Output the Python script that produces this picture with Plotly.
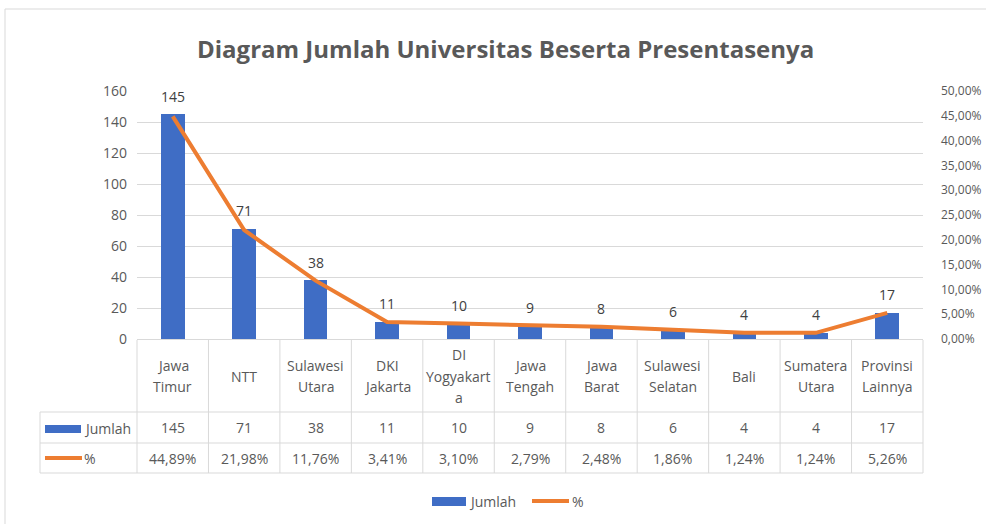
import plotly.graph_objects as go

# ---- data ----
categories = ["Jawa Timur", "NTT", "Sulawesi Utara", "DKI Jakarta", "DI Yogyakarta",
              "Jawa Tengah", "Jawa Barat", "Sulawesi Selatan", "Bali", "Sumatera Utara",
              "Provinsi Lainnya"]
category_lines = [["Jawa", "Timur"], ["NTT"], ["Sulawesi", "Utara"], ["DKI", "Jakarta"],
                  ["DI", "Yogyakart", "a"], ["Jawa", "Tengah"], ["Jawa", "Barat"],
                  ["Sulawesi", "Selatan"], ["Bali"], ["Sumatera", "Utara"], ["Provinsi", "Lainnya"]]
jumlah = [145, 71, 38, 11, 10, 9, 8, 6, 4, 4, 17]
persen = [44.89, 21.98, 11.76, 3.41, 3.10, 2.79, 2.48, 1.86, 1.24, 1.24, 5.26]
left_ticks = [0, 20, 40, 60, 80, 100, 120, 140, 160]
right_ticks = [0, 5, 10, 15, 20, 25, 30, 35, 40, 45, 50]

title = "Diagram Jumlah Universitas Beserta Presentasenya"
BLUE = "#3f6dc5"
ORANGE = "#ed7d31"
TXT = "#595959"
GRID = "#d9d9d9"
FONT = "Open Sans, sans-serif"

W, H = 986, 524
L, R, T, B = 137, 923, 91, 339

def px(x):
    return (x - L) / (R - L)

def py(y):
    return (B - y) / (B - T)

def pct(v):
    return f"{v:.2f}".replace(".", ",") + "%"

n = len(categories)
x_idx = list(range(n))

fig = go.Figure()
fig.add_trace(go.Bar(x=x_idx, y=jumlah, name="Jumlah", marker_color=BLUE,
                     marker_line_width=0, width=0.33, yaxis="y", showlegend=False))
fig.add_trace(go.Scatter(x=x_idx, y=persen, name="%", mode="lines",
                         line=dict(color=ORANGE, width=4), yaxis="y2", showlegend=False,
                         cliponaxis=False))

shapes = []
annotations = []

# title
annotations.append(dict(x=px(505), y=py(48), xref="paper", yref="paper", text=f"<b>{title}</b>",
                        showarrow=False, font=dict(family=FONT, size=24, color=TXT),
                        xanchor="center", yanchor="middle"))

# data labels
for i, v in enumerate(jumlah):
    annotations.append(dict(x=i, y=v, xref="x", yref="y", text=str(v), showarrow=False,
                            yshift=18, font=dict(family=FONT, size=14, color="#404040"),
                            xanchor="center", yanchor="middle"))

# table
col_w = 1.0 / n
tbl_top, row1, row2, row3 = 340, 412, 443, 473
leg_left = 40
line_style = dict(color=GRID, width=1)
for k in range(n + 1):
    xp = k * col_w
    shapes.append(dict(type="line", xref="paper", yref="paper", x0=xp, x1=xp,
                       y0=py(tbl_top), y1=py(row3), line=line_style))
shapes.append(dict(type="line", xref="paper", yref="paper", x0=px(leg_left), x1=px(leg_left),
                   y0=py(row1), y1=py(row3), line=line_style))
for yy in (row1, row2, row3):
    shapes.append(dict(type="line", xref="paper", yref="paper", x0=px(leg_left), x1=1,
                       y0=py(yy), y1=py(yy), line=line_style))

cell_font = dict(family=FONT, size=14, color=TXT)
hdr_c = (tbl_top + row1) / 2
for i, lines in enumerate(category_lines):
    m = len(lines)
    for j, s in enumerate(lines):
        yy = hdr_c + (j - (m - 1) / 2) * 21.5
        annotations.append(dict(x=(i + 0.5) * col_w, y=py(yy), xref="paper", yref="paper",
                                text=s, showarrow=False, font=cell_font,
                                xanchor="center", yanchor="middle"))
    annotations.append(dict(x=(i + 0.5) * col_w, y=py((row1 + row2) / 2), xref="paper", yref="paper",
                            text=str(jumlah[i]), showarrow=False, font=cell_font,
                            xanchor="center", yanchor="middle"))
    annotations.append(dict(x=(i + 0.5) * col_w, y=py((row2 + row3) / 2), xref="paper", yref="paper",
                            text=pct(persen[i]), showarrow=False,
                            font=cell_font, xanchor="center", yanchor="middle"))

# table legend keys
shapes.append(dict(type="rect", xref="paper", yref="paper", x0=px(45), x1=px(81),
                   y0=py(433), y1=py(425), fillcolor=BLUE, line_width=0))
annotations.append(dict(x=px(82), y=py(428), xref="paper", yref="paper", text="Jumlah",
                        showarrow=False, font=cell_font, xanchor="left", yanchor="middle"))
shapes.append(dict(type="line", xref="paper", yref="paper", x0=px(45), x1=px(82),
                   y0=py(458), y1=py(458), line=dict(color=ORANGE, width=4)))
annotations.append(dict(x=px(82), y=py(458), xref="paper", yref="paper", text="%",
                        showarrow=False, font=cell_font, xanchor="left", yanchor="middle"))

# bottom legend
shapes.append(dict(type="rect", xref="paper", yref="paper", x0=px(432), x1=px(466),
                   y0=py(506), y1=py(497), fillcolor=BLUE, line_width=0))
annotations.append(dict(x=px(467), y=py(501), xref="paper", yref="paper", text="Jumlah",
                        showarrow=False, font=cell_font, xanchor="left", yanchor="middle"))
shapes.append(dict(type="line", xref="paper", yref="paper", x0=px(532), x1=px(569),
                   y0=py(501), y1=py(501), line=dict(color=ORANGE, width=4)))
annotations.append(dict(x=px(570), y=py(501), xref="paper", yref="paper", text="%",
                        showarrow=False, font=cell_font, xanchor="left", yanchor="middle"))

# chart outer border
shapes.append(dict(type="line", xref="paper", yref="paper", x0=px(5), x1=px(986),
                   y0=py(9), y1=py(9), line=dict(color=GRID, width=1)))
shapes.append(dict(type="line", xref="paper", yref="paper", x0=px(5), x1=px(5),
                   y0=py(9), y1=py(524), line=dict(color=GRID, width=1)))

fig.update_layout(
    width=W, height=H,
    margin=dict(l=L, r=W - R, t=T, b=H - B, autoexpand=False),
    paper_bgcolor="white", plot_bgcolor="white",
    font=dict(family=FONT, size=14, color=TXT),
    bargap=0,
    xaxis=dict(range=[-0.5, n - 0.5], showticklabels=False, ticks="", showgrid=False,
               zeroline=False, showline=True, linecolor=GRID, linewidth=1, automargin=False),
    yaxis=dict(range=[0, 160], tickvals=left_ticks, showgrid=True, gridcolor=GRID,
               zeroline=False, showline=False, ticks="", ticklabelstandoff=9, automargin=False,
               tickfont=dict(family=FONT, size=14, color=TXT)),
    yaxis2=dict(range=[0, 50], tickvals=right_ticks, ticktext=[pct(v) for v in right_ticks],
                overlaying="y", side="right", automargin=False,
                showgrid=False, zeroline=False, showline=False, ticks="",
                ticklabelstandoff=17,
                tickfont=dict(family=FONT, size=12, color=TXT)),
    shapes=shapes, annotations=annotations, showlegend=False,
)

fig.write_html("out.html", config={"displayModeBar": False},
               post_script="document.body.style.margin='0';")
